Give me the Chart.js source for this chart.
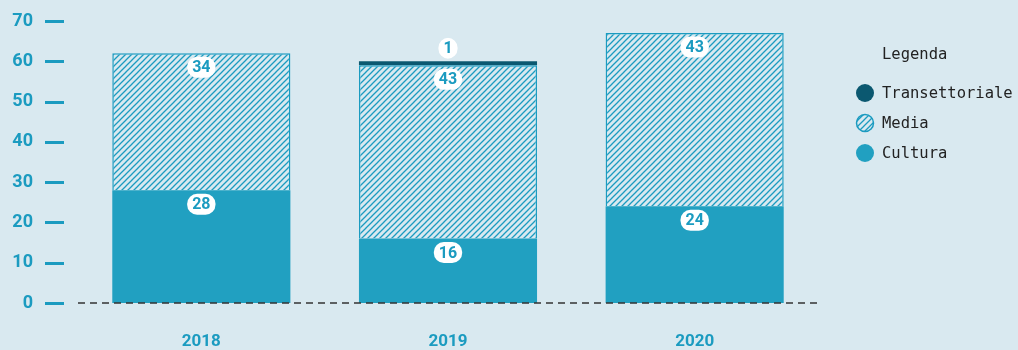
<!DOCTYPE html>
<html>
<head>
<meta charset="utf-8">
<script src="https://cdn.jsdelivr.net/npm/chart.js@4/dist/chart.umd.min.js"></script>
<style>
  html, body { margin: 0; padding: 0; background: #d9e9f0; }
  #wrap { width: 1018px; height: 350px; }
</style>
</head>
<body>
<div id="wrap"><canvas id="chart" width="1018" height="350"></canvas></div>
<script>
// data
const years = ["2018", "2019", "2020"];
const cultura = [28, 16, 24];
const media = [34, 43, 43];
const transettoriale = [0, 1, 0];
const yTicks = [0, 10, 20, 30, 40, 50, 60, 70];
const legendTitle = "Legenda";

const TEAL = "#1b9bc0";
const CULTURA = "#21a0c1";
const DARK = "#0b5870";
const BG = "#d9e9f0";

// diagonal hatch for "Media"
function makeHatch() {
  const c = document.createElement("canvas");
  c.width = 6;
  c.height = 6;
  const ctx = c.getContext("2d");
  ctx.fillStyle = BG;
  ctx.fillRect(0, 0, 6, 6);
  ctx.strokeStyle = TEAL;
  ctx.lineWidth = 1.3;
  ctx.beginPath();
  ctx.moveTo(-1, 7); ctx.lineTo(7, -1);
  ctx.moveTo(-4, 4); ctx.lineTo(4, -4);
  ctx.moveTo(2, 10); ctx.lineTo(10, 2);
  ctx.stroke();
  return ctx.createPattern(c, "repeat");
}
const hatch = makeHatch();

function roundRect(ctx, x, y, w, h, r) {
  ctx.beginPath();
  ctx.moveTo(x + r, y);
  ctx.arcTo(x + w, y, x + w, y + h, r);
  ctx.arcTo(x + w, y + h, x, y + h, r);
  ctx.arcTo(x, y + h, x, y, r);
  ctx.arcTo(x, y, x + w, y, r);
  ctx.closePath();
}

// axis ticks, zero line, value pills and legend
const extras = {
  id: "extras",
  beforeDatasetsDraw(chart) {
    const ctx = chart.ctx;
    const area = chart.chartArea;
    const y = chart.scales.y;
    ctx.save();
    ctx.strokeStyle = TEAL;
    ctx.lineWidth = 3;
    yTicks.forEach(t => {
      const py = Math.round(y.getPixelForValue(t)) + 0.5;
      ctx.beginPath();
      ctx.moveTo(area.left - 33, py);
      ctx.lineTo(area.left - 14, py);
      ctx.stroke();
    });
    ctx.restore();
  },
  afterDatasetsDraw(chart) {
    const ctx = chart.ctx;
    const area = chart.chartArea;
    const y0 = chart.scales.y.getPixelForValue(0);

    ctx.save();
    ctx.strokeStyle = "#333";
    ctx.lineWidth = 1.5;
    ctx.setLineDash([7, 5]);
    ctx.beginPath();
    ctx.moveTo(area.left, y0);
    ctx.lineTo(area.right, y0);
    ctx.stroke();
    ctx.restore();

    ctx.save();
    ctx.font = "bold 16px Roboto, 'Noto Sans', sans-serif";
    ctx.textAlign = "center";
    ctx.textBaseline = "middle";
    chart.data.datasets.forEach((ds, di) => {
      const meta = chart.getDatasetMeta(di);
      meta.data.forEach((bar, i) => {
        const v = ds.data[i];
        if (!v) return;
        const txt = String(v);
        const cy = v < 3 ? bar.y - 13 : bar.y + 14;
        const w = Math.max(ctx.measureText(txt).width + 10, 17);
        ctx.fillStyle = "#ffffff";
        roundRect(ctx, bar.x - w / 2, cy - 10.5, w, 21, 10);
        ctx.fill();
        ctx.fillStyle = TEAL;
        ctx.fillText(txt, bar.x, cy + 1);
      });
    });
    ctx.restore();

    // legend
    ctx.save();
    ctx.font = "15.5px 'DejaVu Sans Mono', 'Liberation Mono', monospace";
    ctx.fillStyle = "#222";
    ctx.textBaseline = "middle";
    ctx.textAlign = "left";
    ctx.fillText(legendTitle, 882, 55);
    const items = chart.data.datasets.slice().reverse();
    items.forEach((ds, k) => {
      const cy = 93 + k * 30;
      ctx.beginPath();
      ctx.arc(865, cy, 9, 0, Math.PI * 2);
      if (ds.label === "Media") {
        ctx.save();
        ctx.clip();
        ctx.fillStyle = hatch;
        ctx.fillRect(855, cy - 10, 20, 20);
        ctx.restore();
        ctx.beginPath();
        ctx.arc(865, cy, 8.5, 0, Math.PI * 2);
        ctx.strokeStyle = TEAL;
        ctx.lineWidth = 1.5;
        ctx.stroke();
      } else {
        ctx.fillStyle = ds.backgroundColor;
        ctx.fill();
      }
      ctx.fillStyle = "#222";
      ctx.fillText(ds.label, 882, cy + 1);
    });
    ctx.restore();
  }
};

new Chart(document.getElementById("chart"), {
  type: "bar",
  data: {
    labels: years,
    datasets: [
      {
        label: "Cultura",
        data: cultura,
        backgroundColor: CULTURA,
        borderWidth: 0
      },
      {
        label: "Media",
        data: media,
        backgroundColor: hatch,
        borderColor: TEAL,
        borderWidth: { top: 1.5, left: 1.5, right: 1.5, bottom: 0 }
      },
      {
        label: "Transettoriale",
        data: transettoriale,
        backgroundColor: DARK,
        borderWidth: 0
      }
    ]
  },
  options: {
    responsive: false,
    animation: false,
    barPercentage: 0.722,
    categoryPercentage: 1,
    layout: { padding: { top: 21, right: 200, bottom: 0, left: 0 } },
    scales: {
      x: {
        stacked: true,
        afterFit: (scale) => { scale.height = 47; },
        grid: { display: false, drawTicks: true, tickLength: 29 },
        border: { display: false },
        ticks: {
          padding: 0,
          color: TEAL,
          font: { family: "Roboto, 'Noto Sans', sans-serif", size: 17, weight: "bold" }
        }
      },
      y: {
        stacked: true,
        min: 0,
        max: 70,
        afterFit: (scale) => { scale.width = 78; },
        afterBuildTicks: (scale) => { scale.ticks = yTicks.map(v => ({ value: v })); },
        grid: { display: false, drawTicks: true, tickLength: 45 },
        border: { display: false },
        ticks: {
          padding: 0,
          color: TEAL,
          font: { family: "Roboto, 'Noto Sans', sans-serif", size: 18, weight: "bold" }
        }
      }
    },
    plugins: {
      legend: { display: false },
      tooltip: { enabled: false }
    }
  },
  plugins: [extras]
});
</script>
</body>
</html>
